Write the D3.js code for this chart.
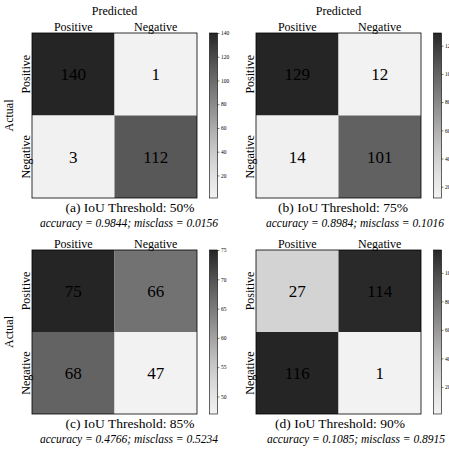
<!DOCTYPE html>
<html>
<head>
<meta charset="utf-8">
<script src="https://cdn.jsdelivr.net/npm/d3@7"></script>
<style>
  body { margin: 0; background: #fff; }
  svg text { font-family: "Liberation Serif", "DejaVu Serif", serif; fill: #000; }
</style>
</head>
<body>
<script>
// data
var classes = ["Positive", "Negative"];
var panelTags = ["(a)", "(b)", "(c)", "(d)"];
var thresholds = ["50%", "75%", "85%", "90%"];
var matrix50 = [[140, 1], [3, 112]];
var matrix75 = [[129, 12], [14, 101]];
var matrix85 = [[75, 66], [68, 47]];
var matrix90 = [[27, 114], [116, 1]];
var accuracy = ["0.9844", "0.8984", "0.4766", "0.1085"];
var misclass = ["0.0156", "0.1016", "0.5234", "0.8915"];
var barTicks50 = [20, 40, 60, 80, 100, 120, 140];
var barTicks75 = [20, 40, 60, 80, 100, 120];
var barTicks85 = [50, 55, 60, 65, 70, 75];
var barTicks90 = [20, 40, 60, 80, 100];

var width = 449, height = 449;

var svg = d3.select('body')
    .append('svg')
    .attr('width', width)
    .attr('height', height);

var defs = svg.append('defs');

var panels = [
    { m: matrix50, ticks: barTicks50, x: 32, y: 33, h: 165, actual: true, predicted: true, capX: 130, accX: 129 },
    { m: matrix75, ticks: barTicks75, x: 256, y: 33, h: 165, actual: false, predicted: true, capX: 343, accX: 355 },
    { m: matrix85, ticks: barTicks85, x: 32, y: 250, h: 164, actual: true, predicted: false, capX: 130, accX: 129 },
    { m: matrix90, ticks: barTicks90, x: 256, y: 250, h: 164, actual: false, predicted: false, capX: 340, accX: 356 }
];

// greys, cut a little at both ends
function grey(t) { return d3.interpolateGreys(0.1 + t * 0.78); }

panels.forEach(function(p, i) {
    var size = 165;
    var vals = [].concat(p.m[0], p.m[1]);
    var vmin = d3.min(vals), vmax = d3.max(vals);
    var norm = d3.scaleLinear().domain([vmin, vmax]).range([0, 1]);

    var xScale = d3.scaleBand().domain(classes).range([0, size]);
    var yScale = d3.scaleBand().domain(classes).range([0, p.h]);

    var g = svg.append('g').attr('transform', 'translate(' + p.x + ',' + p.y + ')');

    var cells = [];
    p.m.forEach(function(row, r) {
        row.forEach(function(v, c) { cells.push({ row: classes[r], col: classes[c], v: v }); });
    });

    g.selectAll('rect.cell').data(cells)
        .enter()
        .append('rect')
        .attr('class', 'cell')
        .attr('x', function(d) { return xScale(d.col); })
        .attr('y', function(d) { return yScale(d.row); })
        .attr('width', xScale.bandwidth())
        .attr('height', yScale.bandwidth())
        .attr('fill', function(d) { return grey(norm(d.v)); });

    g.selectAll('text.num').data(cells)
        .enter()
        .append('text')
        .attr('class', 'num')
        .attr('x', function(d) { return xScale(d.col) + xScale.bandwidth() / 2; })
        .attr('y', function(d) { return yScale(d.row) + yScale.bandwidth() / 2; })
        .attr('dy', '0.35em')
        .attr('text-anchor', 'middle')
        .attr('font-size', 17)
        .text(function(d) { return d.v; });

    g.append('rect')
        .attr('width', size).attr('height', p.h)
        .attr('fill', 'none').attr('stroke', '#000').attr('stroke-width', 0.8);

    // column labels on top
    g.selectAll('text.col').data(classes)
        .enter()
        .append('text')
        .attr('x', function(d) { return xScale(d) + xScale.bandwidth() / 2; })
        .attr('y', -2)
        .attr('text-anchor', 'middle')
        .attr('font-size', 12)
        .text(function(d) { return d; });

    // row labels, turned
    g.selectAll('text.row').data(classes)
        .enter()
        .append('text')
        .attr('transform', function(d) {
            return 'translate(-2,' + (yScale(d) + yScale.bandwidth() / 2) + ') rotate(-90)';
        })
        .attr('text-anchor', 'middle')
        .attr('font-size', 12)
        .text(function(d) { return d; });

    if (p.predicted) {
        g.append('text')
            .attr('x', size / 2).attr('y', -18)
            .attr('text-anchor', 'middle').attr('font-size', 12)
            .text('Predicted');
    }
    if (p.actual) {
        g.append('text')
            .attr('transform', 'translate(-19,' + (p.h / 2) + ') rotate(-90)')
            .attr('text-anchor', 'middle').attr('font-size', 12)
            .text('Actual');
    }

    // colorbar
    var gradId = 'grad' + i;
    var grad = defs.append('linearGradient')
        .attr('id', gradId)
        .attr('x1', 0).attr('y1', 1).attr('x2', 0).attr('y2', 0);
    d3.range(0, 1.0001, 0.1).forEach(function(t) {
        grad.append('stop').attr('offset', t).attr('stop-color', grey(t));
    });

    var cbX = size + 12.5, cbW = 8;
    var cScale = d3.scaleLinear().domain([vmin, vmax]).range([p.h, 0]);
    var cb = g.append('g').attr('transform', 'translate(' + cbX + ',0)');
    cb.append('rect')
        .attr('width', cbW).attr('height', p.h)
        .attr('fill', 'url(#' + gradId + ')')
        .attr('stroke', '#000').attr('stroke-width', 0.6);

    var cAxis = d3.axisRight(cScale).tickValues(p.ticks).tickSize(2).tickPadding(1.5);
    var ax = cb.append('g').attr('transform', 'translate(' + cbW + ',0)').call(cAxis);
    ax.select('.domain').remove();
    ax.selectAll('line').attr('stroke', '#000').attr('stroke-width', 0.5);
    ax.selectAll('text').attr('font-size', 5.5).attr('font-family', '"Liberation Sans", sans-serif');

    // caption under the panel
    svg.append('text')
        .attr('x', p.capX).attr('y', p.y + p.h + 14)
        .attr('text-anchor', 'middle').attr('font-size', 13.5)
        .text(panelTags[i] + ' IoU Threshold: ' + thresholds[i]);

    svg.append('text')
        .attr('x', p.accX).attr('y', p.y + p.h + 29)
        .attr('text-anchor', 'middle').attr('font-size', 11.5)
        .attr('font-style', 'italic')
        .text('accuracy = ' + accuracy[i] + '; misclass = ' + misclass[i]);
});
</script>
</body>
</html>
